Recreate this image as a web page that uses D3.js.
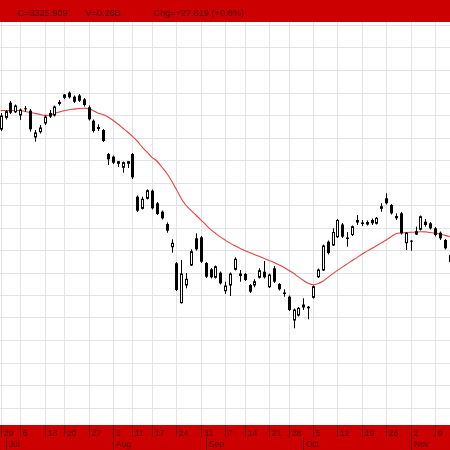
<!DOCTYPE html>
<html><head><meta charset="utf-8">
<script src="https://cdn.jsdelivr.net/npm/d3@7"></script>
<style>html,body{margin:0;padding:0;background:#fff;overflow:hidden}</style>
</head><body><svg id="chart" width="450" height="450"></svg>
<script>
const openVals = [3592,3615.4,3644.6,3626.6,3620,3633.4,3628.6,3576,3586.6,3604,
3624,3620,3643,3655.4,3664.6,3656.6,3659,3651.4,3635.4,3608.6,
3596,3590,3542,3536.6,3523.4,3515.4,3523.4,3542,3456.6,3433.4,
3453.4,3468.6,3443.4,3426.6,3402,3356.6,3323.4,3244.6,3280,3320,
3373.4,3375.4,3324,3311.4,3295.4,3304.6,3268.6,3280,3311.4,3299,
3302,3280,3280,3295.4,3306.6,3276.6,3313.4,3282,3265,3256.6,
3210,3220,3236,3236.6,3255.4,3296.6,3310,3366.6,3360,3376.6,
3401,3375,3381,3406,3405,3402,3410,3403.4,3433.4,3453.4,
3440,3418,3423.4,3364.6,3368.6,3382,3391.4,3406.6,3403.4,3393.4,
3384.6,3370,3340];
const highVals = [3624,3630,3648,3641,3633,3638,3632,3590,3600,3619,
3630,3639,3650,3662,3667,3659,3662,3654,3639,3611,
3601.4,3592,3544,3539,3528,3527,3528,3544,3459,3456.6,
3471.4,3471,3446,3429,3405,3371.4,3326,3330,3304,3351.4,
3383.4,3378,3326,3314,3319,3307,3286.6,3305,3335.4,3310,
3304,3282,3291.4,3313.4,3328,3303,3318,3284,3271.4,3259,
3233,3236,3253.4,3238,3279,3313,3361,3369,3393.4,3412,
3404,3386,3399,3420,3410,3409,3413,3416,3443.4,3463.4,
3442,3423.4,3426,3386,3370,3396.6,3419,3412,3406,3396,
3387,3372,3343];
const lowVals = [3588,3611,3622,3624,3610,3626.6,3586.6,3566.6,3583,3600,
3614,3617,3639,3652,3653,3644,3646,3637,3609,3585,
3588,3566,3520,3522,3516,3504.6,3514,3492,3426,3431,
3451,3431,3420,3411,3384.6,3344.6,3268,3243,3273.4,3318,
3349,3324,3294,3293,3293,3281,3262,3258,3309,3286.6,
3288,3264,3275.4,3293,3293,3274,3284,3269,3256.6,3228,
3193.4,3217,3230,3211.4,3253,3294,3308,3341,3358,3374,
3374,3356.6,3378,3400,3398,3399,3400,3401,3426.6,3441,
3421,3410,3381,3350,3348.6,3380,3389,3396.6,3391,3377,
3370,3351,3324];
const closeVals = [3618,3626.6,3624.6,3638,3630,3631.4,3591.4,3584,3594,3616,
3616.6,3636,3645,3660,3655.4,3646.6,3648.6,3640,3611.4,3588,
3592,3568,3531.4,3524.6,3526.6,3524.6,3526.6,3495.4,3428.6,3451.4,
3468.6,3433.4,3422,3413.4,3388.6,3363.4,3270,3302,3291.4,3346.6,
3351.4,3326.6,3296.6,3295.4,3316.6,3283.4,3278,3302,3331.4,3302,
3290,3266.6,3286.6,3308.6,3295.4,3300,3286.6,3271.4,3262,3230,
3230,3233.4,3240,3233.4,3276.6,3310,3358,3344,3385,3409,
3376.6,3372,3396.6,3409,3402,3405,3403.4,3413.4,3436.6,3443.4,
3423.4,3413.4,3383.4,3383.4,3366.6,3386.6,3416.6,3400,3393.4,3380,
3373.4,3353.4,3325.9];
const maVals = [3629,3629,3629,3629,3629,3627,3625.2,3623.2,3621.2,3619.2,
3619.4,3623,3626,3628.6,3630.6,3631.8,3633,3633.4,3632.8,3628.6,
3623.4,3620.8,3616,3609.4,3602,3594,3586,3577.4,3567.6,3555.6,
3545.6,3535.4,3528,3516,3504,3488.6,3471,3453,3439,3429.2,
3420,3410.4,3400.6,3391.2,3383.6,3376.2,3369.8,3363.8,3358.4,3353.6,
3349.2,3344.8,3340.8,3337.2,3333.2,3329.2,3325.2,3320.6,3315.6,3309.6,
3303.4,3296.2,3289.4,3283.4,3280.4,3282.6,3287.4,3294.8,3302.2,3309.2,
3315.8,3322.2,3328.6,3334.8,3341.4,3347.2,3352.8,3358.4,3364.2,3370,
3376.6,3382.6,3384.2,3384.8,3385.4,3385.8,3386.4,3386.2,3385,3383.8,
3382,3379.2,3376.8];
const tickIdx = [0,4,9,13,18,23,27,31,36,41,46,50,55,59,64,69,74,79,84,89];
const tickLabels = ["29","6","13","20","27","3","11","17","24","31","7","14","21","28","5","12","19","26","2","9"];
const monthIdx = [1,23,42,62,84];
const monthLabels = ["Jul","Aug","Sep","Oct","Nov"];
const gridLevels = [3035,3080,3125,3170,3215,3260,3305,3350,3395,3440,3485,3530,3575,3620,3665,3710,3755,3800];
const headerTexts = ["C=3325.909","V=0.26B","Chg=+27.819 (+0.8%)"];

const W = 450, H = 450, plotTop = 22, plotBottom = 425;
const RED = "#cc0000", TXT = "#5a0808";
const svg = d3.select("#chart");
const x = d3.scaleLinear().domain([0, 92]).range([0.7, 449.66]);
const y = d3.scaleLinear().domain([3850, 2950]).range([0, 450]);
const px = i => Math.round(x(i));

svg.append("rect").attr("width", W).attr("height", H).attr("fill", "#fff");
svg.append("defs").append("clipPath").attr("id", "plotclip")
  .append("rect").attr("x", 0).attr("y", plotTop).attr("width", W).attr("height", plotBottom - plotTop);
const plot = svg.append("g").attr("clip-path", "url(#plotclip)");

// grid
plot.selectAll("line.hg").data(gridLevels).enter().append("line")
  .attr("x1", 0).attr("x2", W)
  .attr("y1", d => Math.round(y(d)) + 0.5).attr("y2", d => Math.round(y(d)) + 0.5)
  .attr("stroke", "#e3e3e3").attr("stroke-width", 1);
plot.selectAll("line.vg").data(tickIdx).enter().append("line")
  .attr("x1", d => px(d) + 0.5).attr("x2", d => px(d) + 0.5)
  .attr("y1", plotTop).attr("y2", plotBottom)
  .attr("stroke", "#e3e3e3").attr("stroke-width", 1);

// moving average
const line = d3.line().x((d, i) => x(i)).y(d => y(d)).curve(d3.curveMonotoneX);
plot.append("path").datum(maVals).attr("d", line)
  .attr("fill", "none").attr("stroke", "#e0443f").attr("stroke-width", 1.1);

// candles
const idx = d3.range(openVals.length);
const cg = plot.selectAll("g.c").data(idx).enter().append("g");
cg.append("line")
  .attr("x1", i => px(i) + 0.5).attr("x2", i => px(i) + 0.5)
  .attr("y1", i => y(highVals[i])).attr("y2", i => y(lowVals[i]))
  .attr("stroke", "#000").attr("stroke-width", 1);
cg.append("rect")
  .attr("x", i => closeVals[i] >= openVals[i] ? px(i) - 0.5 : px(i) - 1)
  .attr("width", i => closeVals[i] >= openVals[i] ? 2 : 3)
  .attr("y", i => y(Math.max(openVals[i], closeVals[i])))
  .attr("height", i => Math.max(1, Math.abs(y(openVals[i]) - y(closeVals[i]))))
  .attr("fill", i => closeVals[i] >= openVals[i] ? "#fff" : "#000")
  .attr("stroke", i => closeVals[i] >= openVals[i] ? "#000" : "none")
  .attr("stroke-width", 1);

// header
svg.append("rect").attr("x", 0).attr("y", 0).attr("width", W).attr("height", plotTop).attr("fill", RED);
const hx = [17, 85, 153];
svg.selectAll("text.h").data(headerTexts).enter().append("text")
  .attr("x", (d, i) => hx[i]).attr("y", 15.5)
  .attr("font-family", "Liberation Sans, Arial, sans-serif").attr("font-size", "9.2px")
  .attr("fill", TXT).text(d => d);

// footer
svg.append("rect").attr("x", 0).attr("y", plotBottom).attr("width", W).attr("height", H - plotBottom).attr("fill", RED);
svg.selectAll("line.ft").data(tickIdx).enter().append("line")
  .attr("x1", d => px(d) + 0.5).attr("x2", d => px(d) + 0.5)
  .attr("y1", plotBottom).attr("y2", plotBottom + 12)
  .attr("stroke", "#6a0a0a").attr("stroke-width", 1);
svg.selectAll("text.ft").data(tickLabels).enter().append("text")
  .attr("x", (d, i) => px(tickIdx[i]) + 2.5).attr("y", 436)
  .attr("font-family", "Liberation Sans, Arial, sans-serif").attr("font-size", "8.5px")
  .attr("fill", TXT).text(d => d);
svg.selectAll("line.fm").data(monthIdx).enter().append("line")
  .attr("x1", d => px(d) + 0.5).attr("x2", d => px(d) + 0.5)
  .attr("y1", plotBottom + 12).attr("y2", H)
  .attr("stroke", "#6a0a0a").attr("stroke-width", 1);
svg.selectAll("text.fm").data(monthLabels).enter().append("text")
  .attr("x", (d, i) => px(monthIdx[i]) + 2.5).attr("y", 446.5)
  .attr("font-family", "Liberation Sans, Arial, sans-serif").attr("font-size", "8.5px")
  .attr("fill", TXT).text(d => d);
</script></body></html>
